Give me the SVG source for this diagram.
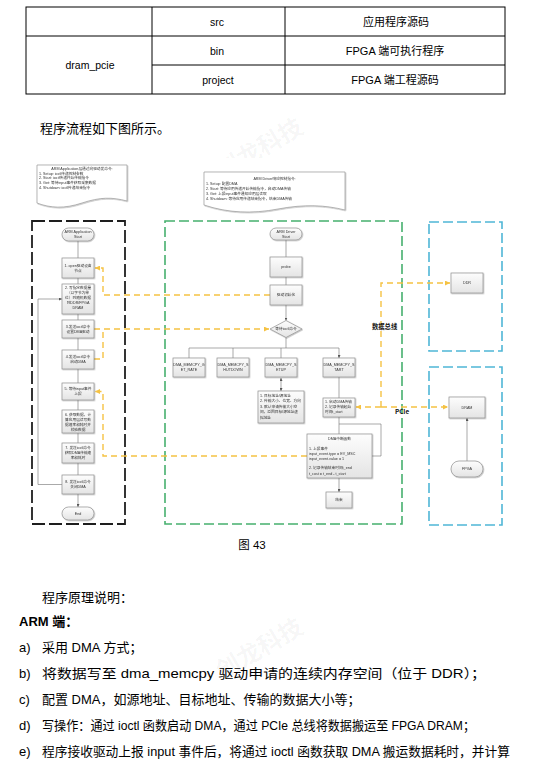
<svg xmlns="http://www.w3.org/2000/svg" width="552" height="759" viewBox="0 0 552 759">
<style>
.t{font-family:"Liberation Sans","Noto Sans CJK SC",sans-serif;fill:#000}
.n{font-family:"Liberation Sans","Noto Sans CJK SC",sans-serif;font-size:3.7px;fill:#333}
.box{fill:url(#g);stroke:#8f8f8f;stroke-width:0.7}
.note{fill:#fff;stroke:#9a9a9a;stroke-width:0.7}
.c{fill:none;stroke:#707070;stroke-width:0.6}
.y{fill:none;stroke:#f5c243;stroke-width:1.4;stroke-dasharray:6 4}
.wm{font-family:"Noto Sans CJK SC",sans-serif;font-size:24px;font-weight:bold;fill:#000;fill-opacity:0.045}
.lbl{font-family:"Noto Sans CJK SC","Liberation Sans",sans-serif;font-weight:bold;fill:#111}
</style>
<defs>
<linearGradient id="g" x1="0" y1="0" x2="0" y2="1"><stop offset="0" stop-color="#fdfdfd"/><stop offset="1" stop-color="#e4e4e4"/></linearGradient>
<filter id="sh" x="-20%" y="-20%" width="140%" height="140%"><feDropShadow dx="0.7" dy="0.7" stdDeviation="0.4" flood-color="#000" flood-opacity="0.3"/></filter>
<marker id="a" viewBox="0 0 6 6" refX="6" refY="3" markerWidth="3" markerHeight="3" orient="auto" markerUnits="userSpaceOnUse"><path d="M0,0 L6,3 L0,6 Z" fill="#555"/></marker>
<marker id="as" viewBox="0 0 6 6" refX="0" refY="3" markerWidth="3" markerHeight="3" orient="auto" markerUnits="userSpaceOnUse"><path d="M6,0 L0,3 L6,6 Z" fill="#555"/></marker>
<marker id="ay" viewBox="0 0 6 6" refX="6" refY="3" markerWidth="5" markerHeight="5" orient="auto" markerUnits="userSpaceOnUse"><path d="M0,0 L6,3 L0,6 Z" fill="#f5c243"/></marker>
</defs>
<rect width="552" height="759" fill="#fff"/>
<g id="watermarks">
<text class="wm" transform="translate(222,180) rotate(-30)">创龙科技</text>
<text class="wm" transform="translate(222,680) rotate(-30)">创龙科技</text>
</g>
<g id="table">
<rect x="26" y="7" width="479" height="87" fill="#fff" stroke="#000" stroke-width="1"/>
<path d="M26,36 H505 M152,65 H505 M152,7 V94 M285,7 V94" stroke="#000" stroke-width="1" fill="none"/>
<g class="t" font-size="10.5" text-anchor="middle">
<text x="217" y="25.5">src</text>
<text x="396" y="25.5" font-size="11">应用程序源码</text>
<text x="217" y="54.5">bin</text>
<text x="395" y="54.5" font-size="11">FPGA 端可执行程序</text>
<text x="90" y="69">dram_pcie</text>
<text x="218" y="83.5">project</text>
<text x="395" y="83.5" font-size="11">FPGA 端工程源码</text>
</g>
</g>
<text class="t" x="40" y="133" font-size="13">程序流程如下图所示。</text>
<rect x="30" y="158" width="476" height="370" fill="#fff"/>
<g id="containers">
<rect x="32" y="221" width="93" height="303" fill="none" stroke="#1e1e1e" stroke-width="1.8" stroke-dasharray="13 4"/>
<rect x="165" y="221" width="237" height="303" fill="none" stroke="#46b06e" stroke-width="1.6" stroke-dasharray="10 4"/>
<rect x="429" y="222" width="73" height="129" fill="none" stroke="#4fb6d6" stroke-width="1.6" stroke-dasharray="10 4"/>
<rect x="429" y="367" width="73" height="158" fill="none" stroke="#4fb6d6" stroke-width="1.6" stroke-dasharray="10 4"/>
</g>
<g id="note-app" filter="url(#sh)">
<path class="note" d="M37,165 H127 V201 C112,197 100,197 82,203 C64,209 50,208 37,203 Z"/>
<text class="n" x="82" y="169.5" text-anchor="middle">ARM Application层通过向驱动发命令:</text>
<text class="n" x="39" y="174.5">1. Setup: ioctl传递控制参数</text>
<text class="n" x="39" y="179.3">2. Start: ioctl传递开始传输指令</text>
<text class="n" x="39" y="184.1">3. Get: 等待input事件获取采集数据</text>
<text class="n" x="39" y="188.9">4. Shutdown: ioctl传递结束指令</text>
</g>
<g id="note-drv" filter="url(#sh)">
<path class="note" d="M204,172 H345 V210 C325,205 305,204 278,209 C252,214 228,213 204,205 Z"/>
<text class="n" x="274.5" y="179.5" text-anchor="middle">ARM Driver响应控制指令:</text>
<text class="n" x="206" y="185">1. Setup: 配置DMA</text>
<text class="n" x="206" y="190">2. Start: 等待应用传递开始传输指令，启动DMA传输</text>
<text class="n" x="206" y="194.6">3. Get: 上报input事件通知应用层读取</text>
<text class="n" x="206" y="199.6">4. Shutdown: 等待应用传递结束指令，结束DMA传输</text>
</g>
<g id="connectors">
<path class="c" marker-end="url(#a)" d="M78,241 V258 M78,278 V284 M78,314 V320 M78,338 V350 M78,369 V383 M78,400 V410 M78,433 V443 M78,463 V475 M78,494 V507"/>
<path class="c" marker-end="url(#a)" d="M62,484.5 H38 V299 H62"/>
<path class="c" marker-end="url(#a)" d="M286,240 V257 M286,277 V285 M286,305 V320.5"/>
<path class="c" d="M286,337.5 V348 M189,348 H339"/>
<path class="c" marker-end="url(#a)" d="M189,348 V358 M233,348 V358 M281,348 V358 M339,348 V358"/>
<path class="c" marker-start="url(#as)" marker-end="url(#a)" d="M281,378 V391"/>
<path class="c" marker-end="url(#a)" d="M339,377 V398 M339,417 V434 M339,478 V492"/>
<path class="c" d="M372,456 H381 V424 H339"/>
<path class="c" marker-end="url(#a)" d="M467,461 V418"/>
<path class="y" marker-end="url(#ay)" d="M270,295 H103 V268 H95"/>
<path class="y" marker-end="url(#ay)" d="M94,329 H269"/>
<path class="y" d="M94,359 H103 V329"/>
<path class="y" marker-end="url(#ay)" d="M307,456 H103 V391.5 H95"/>
<path class="y" marker-end="url(#ay)" d="M381,407 H356"/>
<path class="y" marker-end="url(#ay)" d="M381,407 H448"/>
<path class="y" marker-end="url(#ay)" d="M381,407 V283 H450"/>
</g>
<text class="lbl" x="372" y="328.5" font-size="6.3">数据总线</text>
<text class="lbl" x="395" y="413.5" font-size="6.3" font-family="Liberation Sans,sans-serif">PCIe</text>
<g id="startA" filter="url(#sh)"><rect class="box" x="62" y="228" width="32" height="13" rx="6.5"/><text class="n" x="78" y="233.3" text-anchor="middle">ARM Application</text><text class="n" x="78" y="238.3" text-anchor="middle">Start</text></g>
<g id="b1" filter="url(#sh)"><rect class="box" x="62" y="258" width="32" height="20"/><text class="n" x="78" y="266.8" text-anchor="middle">1. open驱动设备</text><text class="n" x="78" y="271.8" text-anchor="middle">节点</text></g>
<g id="b2" filter="url(#sh)"><rect class="box" x="62" y="284" width="32" height="30"/><g class="n" text-anchor="middle"><text x="78" y="289.3">2. 写指定数据量</text><text x="78" y="294.3">（以字节为单</text><text x="78" y="299.3">位）到随机数据</text><text x="78" y="304.3">到DDR/FPGA</text><text x="78" y="309.3">DRAM</text></g></g>
<g id="b3" filter="url(#sh)"><rect class="box" x="62" y="320" width="32" height="18"/><text class="n" x="78" y="327.8" text-anchor="middle">3.发送ioctl命令</text><text class="n" x="78" y="332.8" text-anchor="middle">设置DMA驱动</text></g>
<g id="b4" filter="url(#sh)"><rect class="box" x="62" y="350" width="32" height="19"/><text class="n" x="78" y="358.3" text-anchor="middle">4.发送ioctl命令</text><text class="n" x="78" y="363.3" text-anchor="middle">启动DMA</text></g>
<g id="b5" filter="url(#sh)"><rect class="box" x="62" y="383" width="32" height="17"/><text class="n" x="78" y="390.3" text-anchor="middle">5. 等待input事件</text><text class="n" x="78" y="395.3" text-anchor="middle">上报</text></g>
<g id="b6" filter="url(#sh)"><rect class="box" x="62" y="410" width="32" height="23"/><g class="n" text-anchor="middle"><text x="78" y="415.8">6. 获取数据，计</text><text x="78" y="420.8">算应用层读写数</text><text x="78" y="425.8">据速率和耗时并</text><text x="78" y="430.8">校验数据</text></g></g>
<g id="b7" filter="url(#sh)"><rect class="box" x="62" y="443" width="32" height="20"/><g class="n" text-anchor="middle"><text x="78" y="449.3">7. 发送ioctl命令</text><text x="78" y="454.3">获取DMA传输速</text><text x="78" y="459.3">率和耗时</text></g></g>
<g id="b8" filter="url(#sh)"><rect class="box" x="62" y="475" width="32" height="19"/><text class="n" x="78" y="483.3" text-anchor="middle">8. 发送ioctl命令</text><text class="n" x="78" y="488.3" text-anchor="middle">关闭DMA</text></g>
<g id="endA" filter="url(#sh)"><rect class="box" x="62" y="507" width="32" height="13" rx="6.5"/><text class="n" x="78" y="514.8" text-anchor="middle">End</text></g>
<g id="startD" filter="url(#sh)"><rect class="box" x="270" y="228" width="32" height="12" rx="6"/><text class="n" x="286" y="232.8" text-anchor="middle">ARM Driver</text><text class="n" x="286" y="237.8" text-anchor="middle">Start</text></g>
<g id="probe" filter="url(#sh)"><rect class="box" x="270" y="257" width="32" height="20"/><text class="n" x="286" y="268.3" text-anchor="middle">probe</text></g>
<g id="init" filter="url(#sh)"><rect class="box" x="270" y="285" width="32" height="20"/><text class="n" x="286" y="296.3" text-anchor="middle">驱动初始化</text></g>
<g id="wait" filter="url(#sh)"><path class="box" d="M270,329 L286,320.5 L302,329 L286,337.5 Z"/><text class="n" x="286" y="330.3" text-anchor="middle">等待ioctl命令</text></g>
<g id="getrate" filter="url(#sh)"><rect class="box" x="173" y="358" width="32" height="19"/><text class="n" x="189" y="366.3" text-anchor="middle">DMA_MEMCPY_G</text><text class="n" x="189" y="371.3" text-anchor="middle">ET_RATE</text></g>
<g id="shutdown" filter="url(#sh)"><rect class="box" x="217" y="358" width="32" height="19"/><text class="n" x="233" y="366.3" text-anchor="middle">DMA_MEMCPY_S</text><text class="n" x="233" y="371.3" text-anchor="middle">HUTDOWN</text></g>
<g id="setup" filter="url(#sh)"><rect class="box" x="265" y="358" width="32" height="19"/><text class="n" x="281" y="366.3" text-anchor="middle">DMA_MEMCPY_S</text><text class="n" x="281" y="371.3" text-anchor="middle">ETUP</text></g>
<g id="start" filter="url(#sh)"><rect class="box" x="323" y="358" width="32" height="19"/><text class="n" x="339" y="366.3" text-anchor="middle">DMA_MEMCPY_S</text><text class="n" x="339" y="371.3" text-anchor="middle">TART</text></g>
<g id="setupinfo" filter="url(#sh)"><rect class="box" x="258" y="391" width="46" height="32"/><g class="n"><text x="260" y="396.5">1. 目标地址/源地址</text><text x="260" y="402">2. 传输大小、位宽、方向</text><text x="260" y="407.6">3. 默认申请传输大小空</text><text x="260" y="413.2">间，返回目标/源地址虚</text><text x="260" y="418.8">拟地址</text></g></g>
<g id="startinfo" filter="url(#sh)"><rect class="box" x="323" y="398" width="32" height="19"/><g class="n"><text x="325" y="403.3">1. 启动DMA传输</text><text x="325" y="408.3">2. 记录传输起始</text><text x="325" y="413.3">时间t_start</text></g></g>
<g id="irq" filter="url(#sh)"><rect class="box" x="307" y="434" width="65" height="44"/><text class="n" x="339.5" y="440.3" text-anchor="middle">DMA中断函数</text><g class="n"><text x="309" y="450.3">1. 上报事件</text><text x="309" y="455.3">input_event.type = EV_MSC</text><text x="309" y="459.8">input_event.value = 1</text><text x="309" y="469.3">2. 记录传输结束时间t_end</text><text x="309" y="475">t_cost = t_end - t_start</text></g></g>
<g id="finish" filter="url(#sh)"><rect class="box" x="326" y="492" width="26" height="16"/><text class="n" x="339" y="501.3" text-anchor="middle">结束</text></g>
<g id="ddr" filter="url(#sh)"><rect class="box" x="451" y="273" width="32" height="20"/><text class="n" x="467" y="284.3" text-anchor="middle">DDR</text></g>
<g id="dram" filter="url(#sh)"><rect class="box" x="449" y="397" width="36" height="21"/><text class="n" x="467" y="408.8" text-anchor="middle">DRAM</text></g>
<g id="fpga" filter="url(#sh)"><rect class="box" x="451" y="461" width="32" height="16" rx="8"/><text class="n" x="467" y="470.3" text-anchor="middle">FPGA</text></g>
<g id="body" class="t" font-size="13">
<text x="252" y="549" text-anchor="middle" font-size="11.5">图 43</text>
<text x="42" y="602">程序原理说明：</text>
<text x="19" y="626" font-weight="bold">ARM 端：</text>
<text x="19" y="652">a)</text><text x="42" y="652">采用 DMA 方式；</text>
<text x="19" y="678">b)</text><text x="42" y="678" textLength="444" lengthAdjust="spacingAndGlyphs">将数据写至 dma_memcpy 驱动申请的连续内存空间（位于 DDR）；</text>
<text x="19" y="704">c)</text><text x="42" y="704">配置 DMA，如源地址、目标地址、传输的数据大小等；</text>
<text x="19" y="730">d)</text><text x="42" y="730" textLength="433" lengthAdjust="spacingAndGlyphs">写操作：通过 ioctl 函数启动 DMA，通过 PCIe 总线将数据搬运至 FPGA DRAM；</text>
<text x="19" y="756">e)</text><text x="42" y="756" textLength="468" lengthAdjust="spacingAndGlyphs">程序接收驱动上报 input 事件后，将通过 ioctl 函数获取 DMA 搬运数据耗时，并计算</text>
</g>
</svg>
